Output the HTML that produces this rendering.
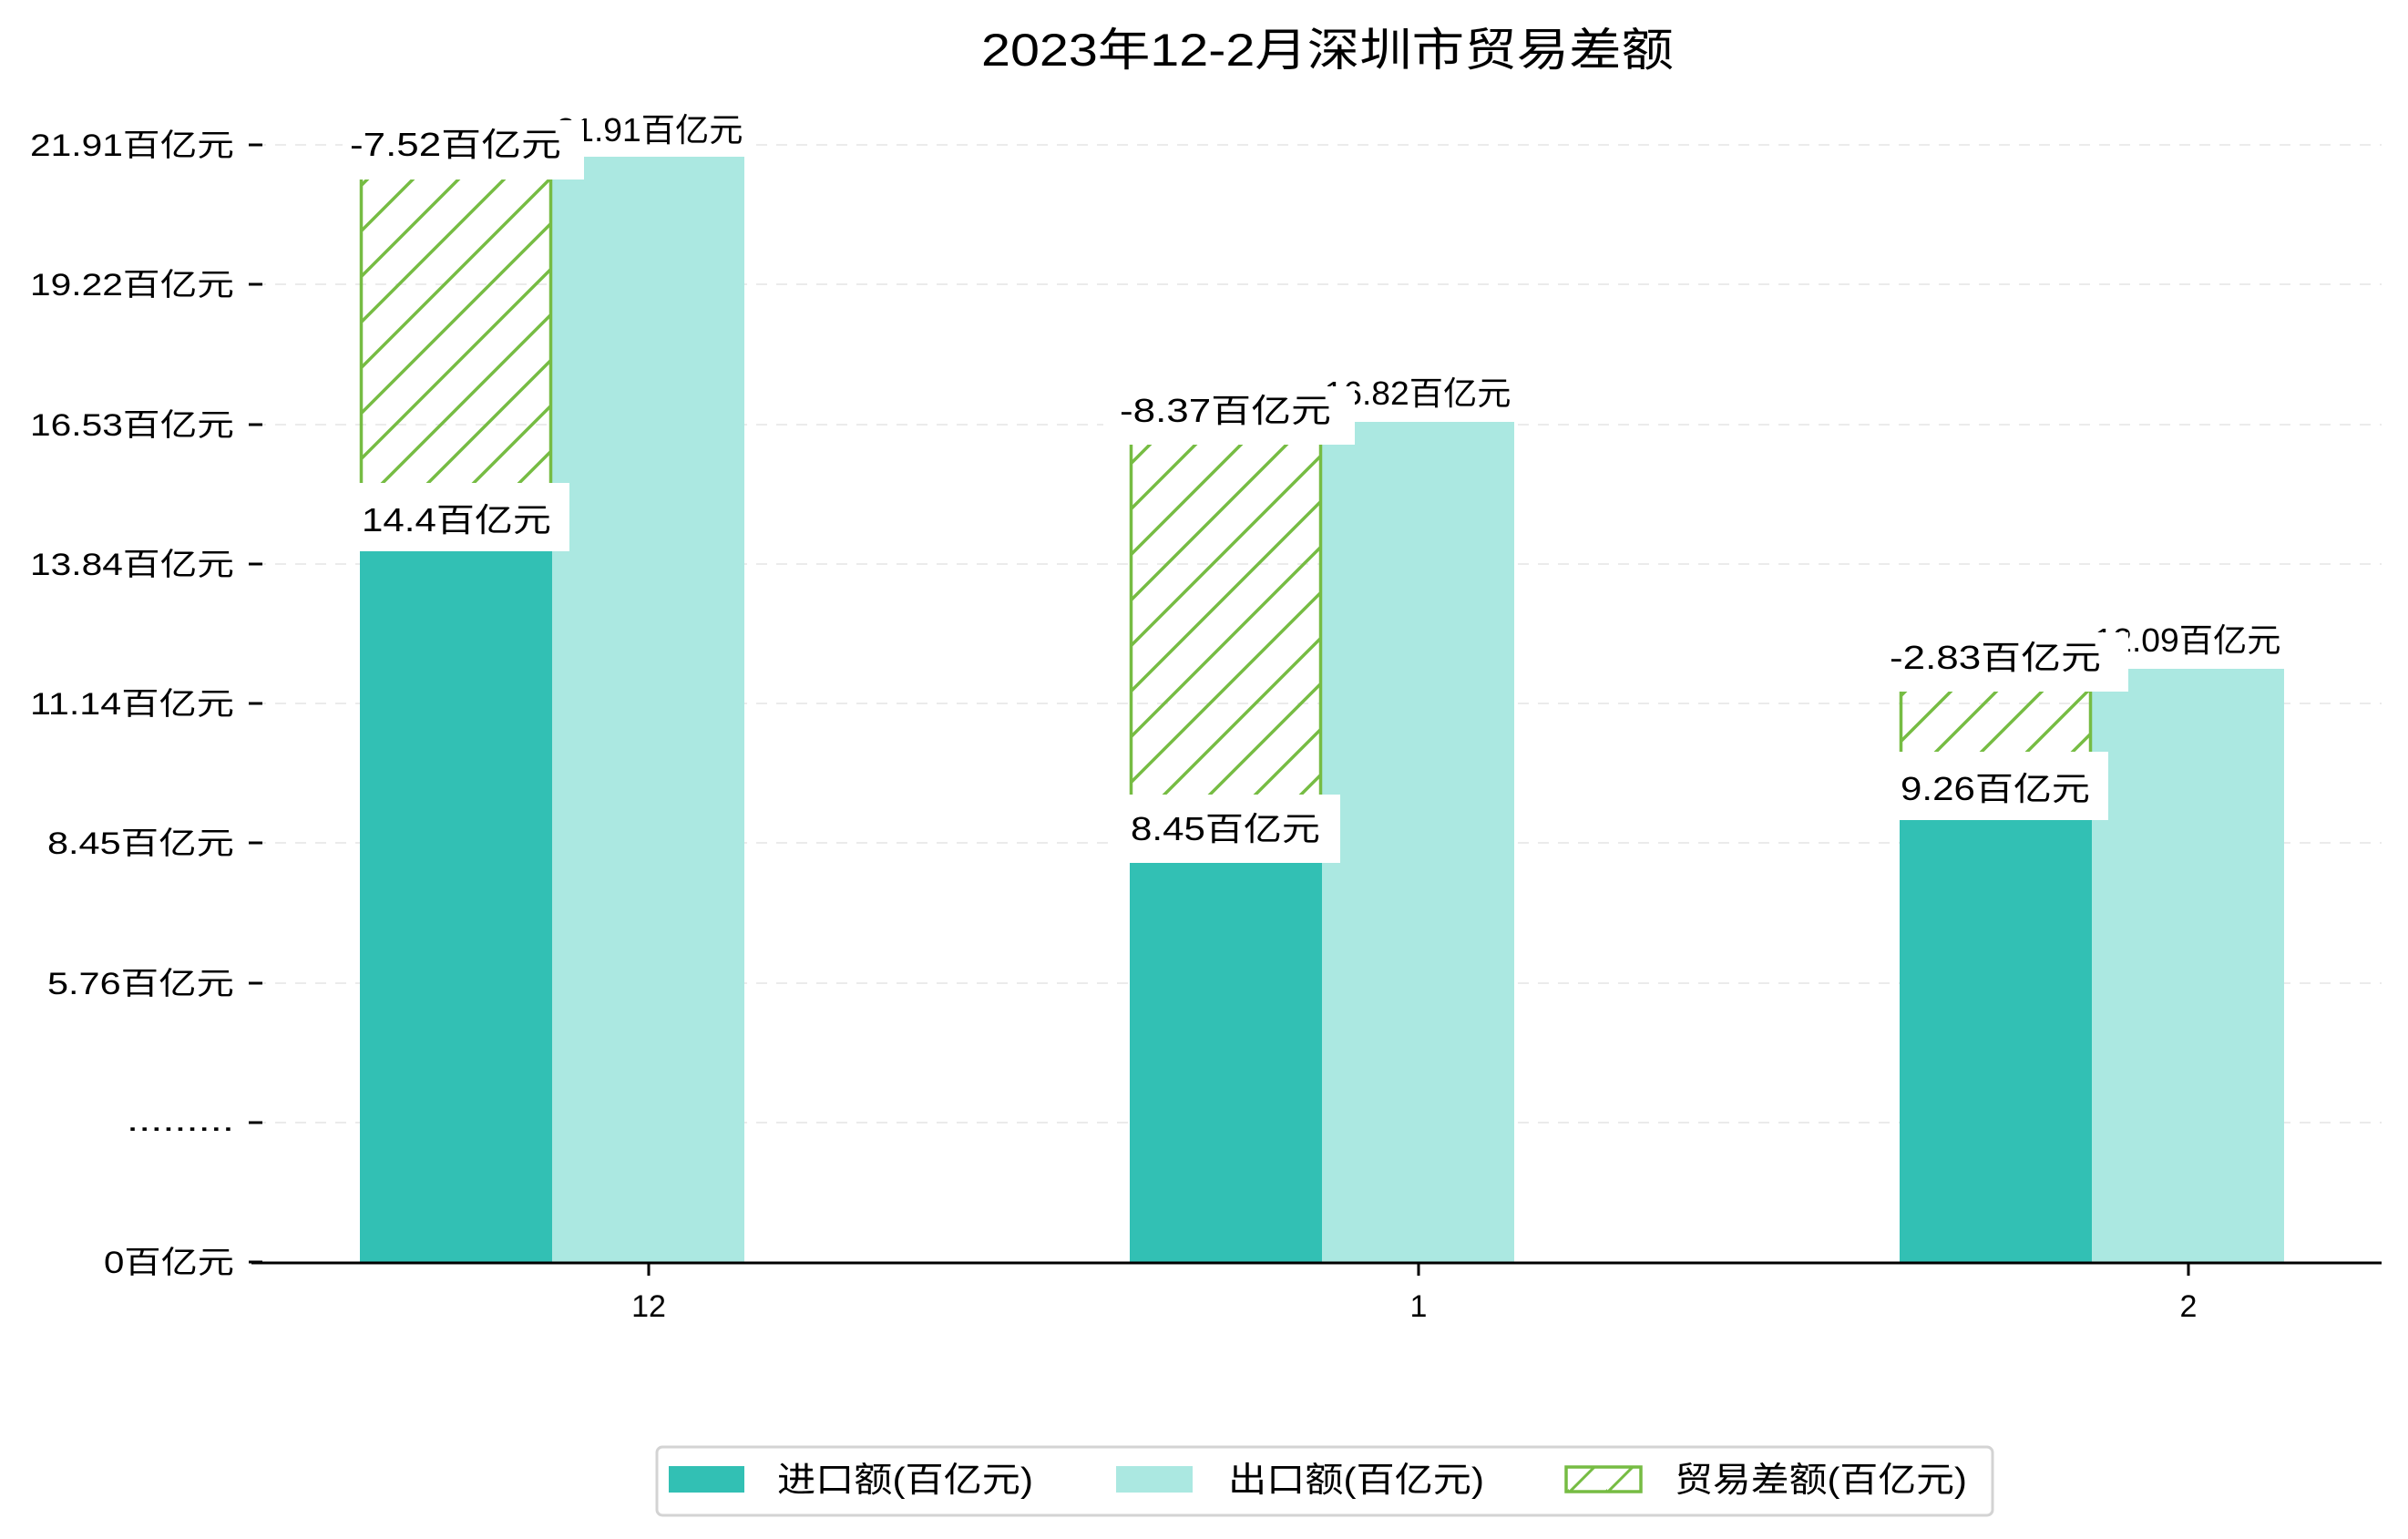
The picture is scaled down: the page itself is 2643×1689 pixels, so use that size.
<!DOCTYPE html>
<html><head><meta charset="utf-8"><style>html,body{margin:0;padding:0;background:#fff}svg{display:block}</style></head>
<body>
<svg width="2643" height="1689" viewBox="0 0 2643 1689" xmlns="http://www.w3.org/2000/svg" font-family="'Liberation Sans','Noto Sans CJK SC',sans-serif">
<defs>
<pattern id="h" patternUnits="userSpaceOnUse" width="50" height="50">
<path d="M-10,60 L60,-10 M-60,60 L10,-10 M40,60 L110,-10" stroke="#76bc43" stroke-width="3.5"/>
</pattern>
<pattern id="h2" patternUnits="userSpaceOnUse" width="42" height="42">
<path d="M-10,52 L52,-10 M30,52 L92,-10" stroke="#76bc43" stroke-width="3"/>
</pattern>
</defs>
<rect width="2643" height="1689" fill="#fff"/>
<text x="1457" y="72" font-size="50" text-anchor="middle" textLength="760" lengthAdjust="spacingAndGlyphs">2023年12-2月深圳市贸易差额</text>
<g stroke="#ebebeb" stroke-width="2" stroke-dasharray="12,10">
<line x1="280" y1="159" x2="2614" y2="159"/><line x1="280" y1="312" x2="2614" y2="312"/><line x1="280" y1="466" x2="2614" y2="466"/><line x1="280" y1="619" x2="2614" y2="619"/><line x1="280" y1="772" x2="2614" y2="772"/><line x1="280" y1="925" x2="2614" y2="925"/><line x1="280" y1="1079" x2="2614" y2="1079"/><line x1="280" y1="1232" x2="2614" y2="1232"/>
</g>
<g stroke="#000" stroke-width="3">
<line x1="273" y1="159" x2="288" y2="159"/><line x1="273" y1="312" x2="288" y2="312"/><line x1="273" y1="466" x2="288" y2="466"/><line x1="273" y1="619" x2="288" y2="619"/><line x1="273" y1="772" x2="288" y2="772"/><line x1="273" y1="925" x2="288" y2="925"/><line x1="273" y1="1079" x2="288" y2="1079"/><line x1="273" y1="1232" x2="288" y2="1232"/><line x1="273" y1="1385" x2="288" y2="1385"/>
</g>
<g font-size="34" text-anchor="end">
<text x="257" y="171" textLength="224" lengthAdjust="spacingAndGlyphs">21.91百亿元</text>
<text x="257" y="324" textLength="224" lengthAdjust="spacingAndGlyphs">19.22百亿元</text>
<text x="257" y="478" textLength="224" lengthAdjust="spacingAndGlyphs">16.53百亿元</text>
<text x="257" y="631" textLength="224" lengthAdjust="spacingAndGlyphs">13.84百亿元</text>
<text x="257" y="784" textLength="224" lengthAdjust="spacingAndGlyphs">11.14百亿元</text>
<text x="257" y="937" textLength="205" lengthAdjust="spacingAndGlyphs">8.45百亿元</text>
<text x="257" y="1091" textLength="205" lengthAdjust="spacingAndGlyphs">5.76百亿元</text>
<text x="257" y="1241" textLength="118" lengthAdjust="spacingAndGlyphs">.........</text>
<text x="257" y="1397" textLength="143" lengthAdjust="spacingAndGlyphs">0百亿元</text>
</g>
<!-- bars -->
<rect x="395" y="602" width="211" height="783" fill="#32c0b4"/>
<rect x="606" y="172" width="211" height="1213" fill="#abe8e1"/>
<rect x="396.5" y="172" width="208" height="430" fill="url(#h)" stroke="#76bc43" stroke-width="3.5"/>
<rect x="1240" y="943" width="211" height="442" fill="#32c0b4"/>
<rect x="1451" y="463" width="211" height="922" fill="#abe8e1"/>
<rect x="1241.5" y="463" width="208" height="480" fill="url(#h)" stroke="#76bc43" stroke-width="3.5"/>
<rect x="2085" y="896" width="211" height="489" fill="#32c0b4"/>
<rect x="2296" y="734" width="211" height="651" fill="#abe8e1"/>
<rect x="2086.5" y="734" width="208" height="162" fill="url(#h)" stroke="#76bc43" stroke-width="3.5"/>
<line x1="276" y1="1386" x2="2614" y2="1386" stroke="#000" stroke-width="3"/>
<g stroke="#000" stroke-width="3"><line x1="712" y1="1386" x2="712" y2="1400"/><line x1="1557" y1="1386" x2="1557" y2="1400"/><line x1="2402" y1="1386" x2="2402" y2="1400"/></g>
<g font-size="34" text-anchor="middle">
<text x="712" y="1445">12</text><text x="1557" y="1445">1</text><text x="2402" y="1445">2</text>
</g>
<!-- labels -->
<g font-size="36" text-anchor="middle">
<rect x="610" y="108" width="214" height="64" fill="#fff"/>
<text x="713" y="155" textLength="205" lengthAdjust="spacingAndGlyphs">21.91百亿元</text>
<rect x="376" y="132" width="265" height="65" fill="#fff"/>
<text x="500" y="171" textLength="232" lengthAdjust="spacingAndGlyphs">-7.52百亿元</text>
<rect x="386" y="530" width="239" height="75" fill="#fff"/>
<text x="501" y="583" textLength="208" lengthAdjust="spacingAndGlyphs">14.4百亿元</text>

<rect x="1455" y="400" width="214" height="63" fill="#fff"/>
<text x="1556" y="444" textLength="205" lengthAdjust="spacingAndGlyphs">16.82百亿元</text>
<rect x="1211" y="424" width="276" height="64" fill="#fff"/>
<text x="1345" y="463" textLength="232" lengthAdjust="spacingAndGlyphs">-8.37百亿元</text>
<rect x="1223" y="872" width="248" height="75" fill="#fff"/>
<text x="1345" y="922" textLength="208" lengthAdjust="spacingAndGlyphs">8.45百亿元</text>

<rect x="2300" y="671" width="214" height="63" fill="#fff"/>
<text x="2401" y="715" textLength="205" lengthAdjust="spacingAndGlyphs">12.09百亿元</text>
<rect x="2060" y="694" width="276" height="65" fill="#fff"/>
<text x="2190" y="734" textLength="232" lengthAdjust="spacingAndGlyphs">-2.83百亿元</text>
<rect x="2069" y="825" width="245" height="75" fill="#fff"/>
<text x="2190" y="878" textLength="208" lengthAdjust="spacingAndGlyphs">9.26百亿元</text>
</g>
<!-- legend -->
<rect x="721" y="1588" width="1466" height="75" rx="6" fill="#fff" stroke="#d3d3d3" stroke-width="3"/>
<rect x="734" y="1609" width="83" height="29" fill="#32c0b4"/>
<rect x="1225" y="1609" width="84" height="29" fill="#abe8e1"/>
<rect x="1719" y="1610" width="82" height="27" fill="url(#h2)" stroke="#76bc43" stroke-width="3.5"/>
<g font-size="38">
<text x="853" y="1637" textLength="281" lengthAdjust="spacingAndGlyphs">进口额(百亿元)</text>
<text x="1348" y="1637" textLength="281" lengthAdjust="spacingAndGlyphs">出口额(百亿元)</text>
<text x="1838" y="1637" textLength="321" lengthAdjust="spacingAndGlyphs">贸易差额(百亿元)</text>
</g>
</svg>
</body></html>
